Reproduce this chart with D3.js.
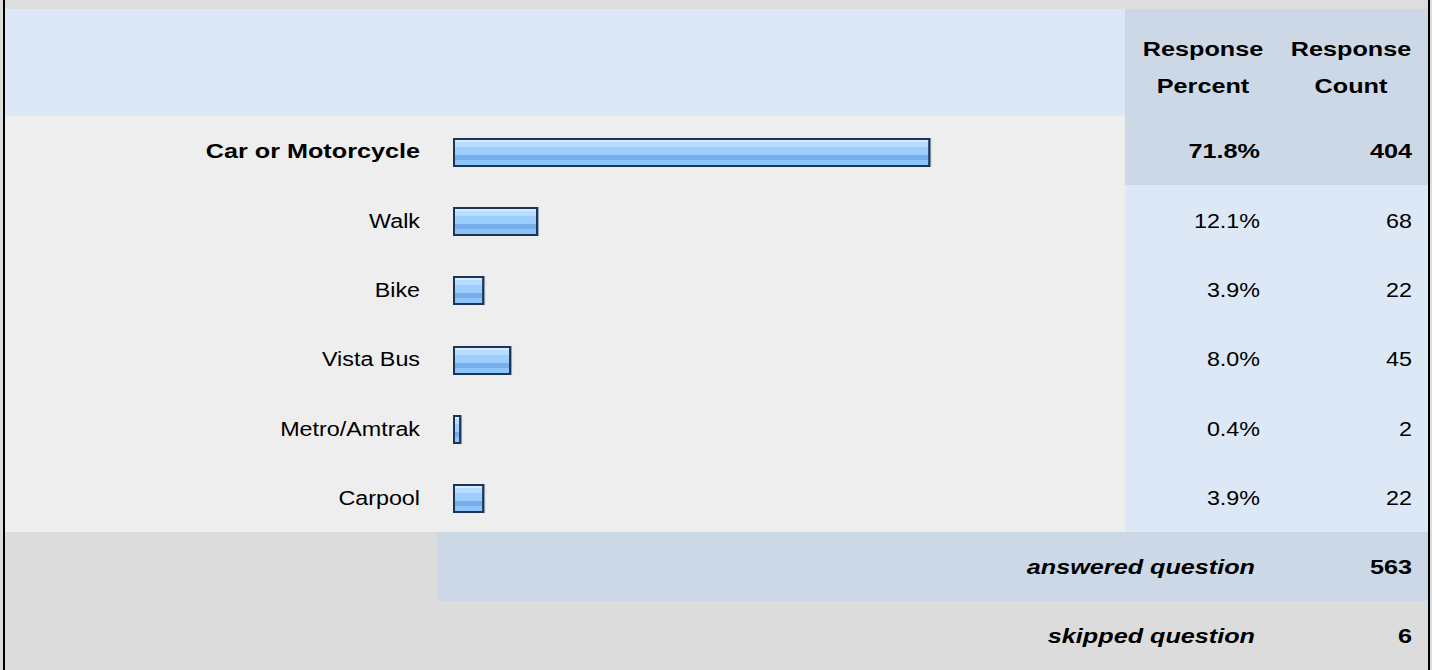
<!DOCTYPE html>
<html>
<head>
<meta charset="utf-8">
<script src="https://cdn.jsdelivr.net/npm/d3@7"></script>
<style>
  html, body { margin: 0; padding: 0; background: #dddddd; overflow: hidden; }
  svg { display: block; }
  text { font-family: "Liberation Sans", Arial, Helvetica, sans-serif; fill: #000; }
  rect.bg { shape-rendering: crispEdges; }
</style>
</head>
<body>
<div id="chart"></div>
<script>
// ---- data ----
const categories = ["Car or Motorcycle", "Walk", "Bike", "Vista Bus", "Metro/Amtrak", "Carpool"];
const percents = [71.8, 12.1, 3.9, 8.0, 0.4, 3.9];
const counts = [404, 68, 22, 45, 2, 22];
const headerLabels = [["Response", "Percent"], ["Response", "Count"]];
const summaryLabels = ["answered question", "skipped question"];
const summaryValues = [563, 6];
const highlighted = "Car or Motorcycle";

// ---- layout ----
const W = 1432, H = 670;
const svg = d3.select("#chart").append("svg").attr("width", W).attr("height", H);

const defs = svg.append("defs");
const grad = defs.append("linearGradient").attr("id", "barGrad")
  .attr("x1", 0).attr("y1", 0).attr("x2", 0).attr("y2", 1);
[
  [0, "#d4ecff"], [0.12, "#d4ecff"], [0.12, "#b9ddff"], [0.28, "#b9ddff"],
  [0.28, "#9bcdff"], [0.58, "#9bcdff"], [0.58, "#78adec"], [0.78, "#78adec"],
  [0.78, "#8cc3fa"], [1, "#8cc3fa"]
].forEach(([o, c]) => grad.append("stop").attr("offset", o).attr("stop-color", c));

const FS = 21;
const SX_B = 1.2, SX_R = 1.11;
function txt(g, x, y, s, opts) {
  const bold = opts.bold, italic = opts.italic;
  return g.append("text")
    .attr("transform", `translate(${x},${y}) scale(${bold ? SX_B : SX_R},1)`)
    .attr("text-anchor", opts.anchor || "end")
    .attr("font-size", FS)
    .attr("font-weight", bold ? "bold" : "normal")
    .attr("font-style", italic ? "italic" : "normal")
    .text(s);
}

const left = 5, right = 1428;
const headerTop = 9, rowsTop = 116, rowsBottom = 532, ansBottom = 601, skipBottom = 670;
const splitX = 1125;      // start of value columns
const labelStartX = 437;  // start of answered-question shaded cell

const y = d3.scaleBand().domain(categories).range([rowsTop, rowsBottom]);
const yTop = d => Math.round(y(d));
const yH = d => Math.round(y(d) + y.bandwidth()) - Math.round(y(d));
const xBar = d3.scaleLinear().domain([0, 100]).range([5.5, 662.5]);
const barX = 453, barH = 29;

// top strip
svg.append("rect").attr("class", "bg").attr("x", 0).attr("y", 0).attr("width", W).attr("height", headerTop).attr("fill", "#dddddd");

// header row
svg.append("rect").attr("class", "bg").attr("x", left).attr("y", headerTop).attr("width", splitX - left).attr("height", rowsTop - headerTop).attr("fill", "#dce8f5");
svg.append("rect").attr("class", "bg").attr("x", splitX).attr("y", headerTop).attr("width", right - splitX).attr("height", rowsTop - headerTop).attr("fill", "#ccd8e6");

const colX = [1203, 1351];
const hg = svg.append("g");
headerLabels.forEach((lines, i) => {
  lines.forEach((l, j) => txt(hg, colX[i], 56 + j * 36.5, l, { bold: true, anchor: "middle" }));
});

// data rows
const rows = svg.append("g").selectAll("g").data(categories).join("g");
rows.append("rect").attr("class", "bg").attr("x", left).attr("y", yTop).attr("width", splitX - left).attr("height", yH).attr("fill", "#eeeeee");
rows.append("rect").attr("class", "bg").attr("x", splitX).attr("y", yTop).attr("width", right - splitX).attr("height", yH)
  .attr("fill", d => d === highlighted ? "#ccd8e6" : "#dce8f5");

rows.each(function (d, i) {
  const g = d3.select(this);
  const cy = y(d) + y.bandwidth() / 2;
  const bold = d === highlighted;
  txt(g, 420, cy + 7.5, d, { bold });
  txt(g, 1260, cy + 7.5, percents[i].toFixed(1) + "%", { bold });
  txt(g, 1412, cy + 7.5, String(counts[i]), { bold });
  const w = xBar(percents[i]);
  const by = Math.round(cy - barH / 2 + 1.5);
  g.append("rect").attr("x", barX).attr("y", by).attr("width", w + 1).attr("height", barH)
    .attr("fill", "#9aa9ba");
  g.append("rect").attr("x", barX + 1).attr("y", by + 1).attr("width", w - 2).attr("height", barH - 2)
    .attr("fill", "url(#barGrad)").attr("stroke", "#1c3557").attr("stroke-width", 2);
});

// answered row
svg.append("rect").attr("class", "bg").attr("x", left).attr("y", rowsBottom).attr("width", right - left).attr("height", ansBottom - rowsBottom).attr("fill", "#dcdcdc");
svg.append("rect").attr("class", "bg").attr("x", labelStartX).attr("y", rowsBottom).attr("width", right - labelStartX).attr("height", ansBottom - rowsBottom).attr("fill", "#ccd8e6");
// skipped row
svg.append("rect").attr("class", "bg").attr("x", left).attr("y", ansBottom).attr("width", right - left).attr("height", skipBottom - ansBottom).attr("fill", "#dcdcdc");

const sg = svg.append("g");
const sumCenters = [(rowsBottom + ansBottom) / 2, (ansBottom + skipBottom) / 2];
summaryLabels.forEach((l, i) => {
  txt(sg, 1255, sumCenters[i] + 7.5, l, { bold: true, italic: true });
  txt(sg, 1412, sumCenters[i] + 7.5, String(summaryValues[i]), { bold: true });
});

// side borders
svg.append("rect").attr("class", "bg").attr("x", 3).attr("y", 0).attr("width", 2).attr("height", H).attr("fill", "#000");
svg.append("rect").attr("class", "bg").attr("x", 1428).attr("y", 0).attr("width", 2).attr("height", H).attr("fill", "#000");
</script>
</body>
</html>
